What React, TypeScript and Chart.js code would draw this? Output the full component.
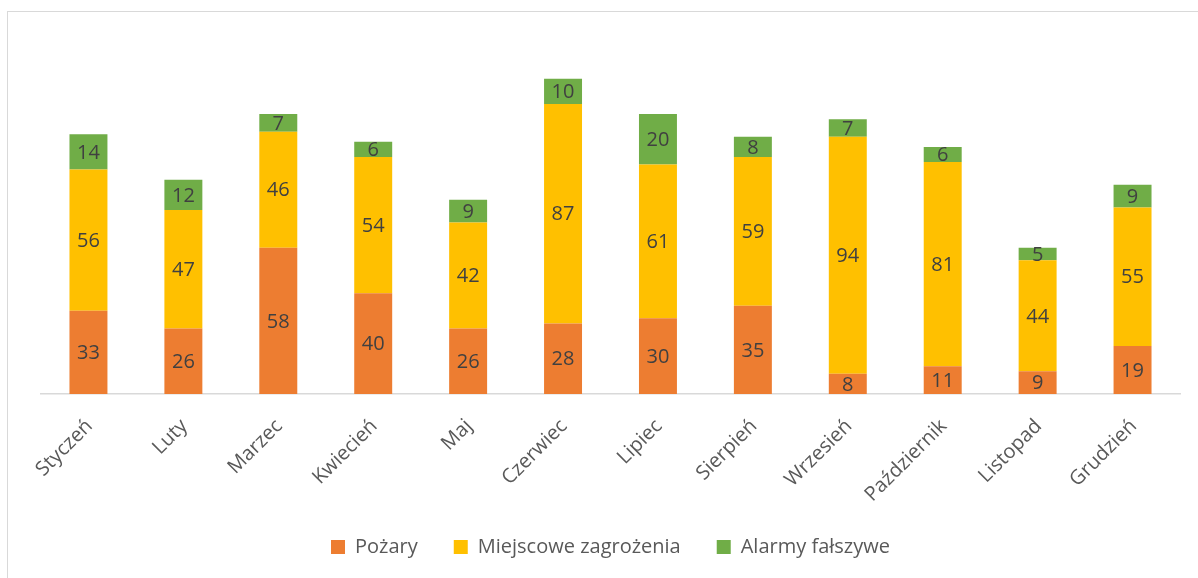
import React, { useEffect, useRef } from "react";
import { Chart, registerables } from "chart.js";

Chart.register(...registerables);

const months = ["Styczeń", "Luty", "Marzec", "Kwiecień", "Maj", "Czerwiec", "Lipiec", "Sierpień", "Wrzesień", "Październik", "Listopad", "Grudzień"];
const pozary = [33, 26, 58, 40, 26, 28, 30, 35, 8, 11, 9, 19];
const miejscowe = [56, 47, 46, 54, 42, 87, 61, 59, 94, 81, 44, 55];
const alarmy = [14, 12, 7, 6, 9, 10, 20, 8, 7, 6, 5, 9];

const FONT = "'Open Sans', 'Noto Sans', sans-serif";

const labelPlugin = {
  id: "barLabels",
  afterDatasetsDraw(chart: any) {
    const ctx = chart.ctx;
    ctx.save();
    ctx.font = `20px ${FONT}`;
    ctx.fillStyle = "#404040";
    ctx.textAlign = "center";
    ctx.textBaseline = "middle";
    chart.data.datasets.forEach((ds: any, di: number) => {
      const meta = chart.getDatasetMeta(di);
      meta.data.forEach((bar: any, i: number) => {
        const v = ds.data[i];
        const cy = (bar.y + bar.base) / 2;
        ctx.fillText(String(v), bar.x, cy + 1);
      });
    });
    // rotated category labels
    const xs = chart.scales.x;
    ctx.font = `20px ${FONT}`;
    ctx.fillStyle = "#595959";
    ctx.textAlign = "right";
    ctx.textBaseline = "middle";
    (chart.data.labels as string[]).forEach((lab: string, i: number) => {
      const x = xs.getPixelForValue(i);
      ctx.save();
      ctx.translate(x + 1, xs.top + 29);
      ctx.rotate(-Math.PI / 4);
      ctx.fillText(lab, 0, 0);
      ctx.restore();
    });
    ctx.restore();
  },
};

export default function App() {
  const ref = useRef<HTMLCanvasElement | null>(null);
  useEffect(() => {
    document.body.style.margin = "0";
    const chart = new Chart(ref.current as HTMLCanvasElement, {
      type: "bar",
      data: {
        labels: months,
        datasets: [
          { label: "Pożary", data: pozary, backgroundColor: "#ED7D31" },
          { label: "Miejscowe zagrożenia", data: miejscowe, backgroundColor: "#FFC000" },
          { label: "Alarmy fałszywe", data: alarmy, backgroundColor: "#70AD47" },
        ],
      },
      options: {
        animation: false,
        responsive: false,
        layout: { padding: { left: 41, right: 18, top: 41, bottom: 11 } },
        datasets: { bar: { barPercentage: 0.4, categoryPercentage: 1 } } as any,
        plugins: {
          legend: {
            position: "bottom",
            labels: {
              font: { family: FONT, size: 20 },
              color: "#595959",
              boxWidth: 14,
              boxHeight: 14,
              padding: 36,
            },
          },
          tooltip: { enabled: false },
        },
        scales: {
          x: {
            stacked: true,
            grid: { display: false },
            border: { display: true, color: "#d9d9d9", width: 1.5 },
            ticks: { display: false },
            afterFit: (axis: any) => {
              axis.height = 107;
            },
          },
          y: {
            stacked: true,
            display: false,
            min: 0,
            max: 140,
          },
        },
      },
      plugins: [labelPlugin],
    });
    return () => chart.destroy();
  }, []);
  return (
    <div style={{ position: "relative", width: 1198, height: 578, overflow: "hidden", background: "#fff" }}>
      <div
        style={{
          position: "absolute",
          left: 7,
          top: 11,
          width: 1300,
          height: 700,
          border: "1.5px solid #d9d9d9",
        }}
      />
      <canvas ref={ref} width={1198} height={578} style={{ position: "absolute", left: 0, top: 0 }} />
    </div>
  );
}
